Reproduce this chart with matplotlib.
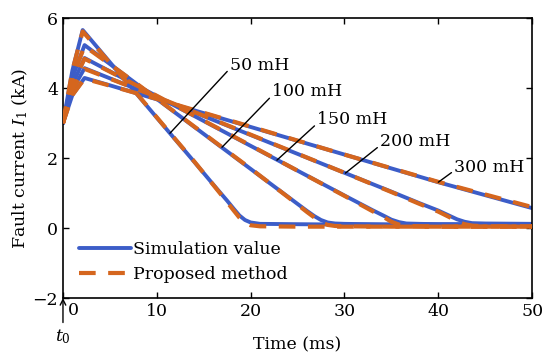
import numpy as np
import matplotlib
matplotlib.use('Agg')
import matplotlib.pyplot as plt

plt.rcParams['font.family'] = 'DejaVu Serif'
plt.rcParams['mathtext.fontset'] = 'dejavuserif'

# time (ms) / current (kA) points
t50 = [0, 1, 2.1, 5, 8, 11.4, 14, 16, 17.5, 18.2, 18.8, 19.4, 20, 21, 25, 30, 40, 50]
sim50 = [3.0, 4.5, 5.66, 4.74, 3.79, 2.71, 1.89, 1.25, 0.78, 0.55, 0.36, 0.23, 0.16, 0.12, 0.11, 0.1, 0.1, 0.1]
pro50 = [3.0, 4.5, 5.62, 4.72, 3.80, 2.72, 1.90, 1.24, 0.74, 0.5, 0.3, 0.15, 0.08, 0.05, 0.04, 0.04, 0.04, 0.04]

t100 = [0, 1, 2.3, 5, 8, 12, 16, 20, 24, 26, 26.8, 27.5, 28.2, 29, 30, 35, 40, 50]
sim100 = [3.0, 4.3, 5.23, 4.69, 4.09, 3.29, 2.49, 1.69, 0.89, 0.49, 0.34, 0.23, 0.16, 0.13, 0.12, 0.1, 0.1, 0.1]
pro100 = [3.0, 4.3, 5.2, 4.68, 4.1, 3.3, 2.5, 1.7, 0.88, 0.46, 0.3, 0.17, 0.09, 0.06, 0.05, 0.04, 0.04, 0.04]

t150 = [0, 1, 2.3, 5, 10, 15, 20, 25, 30, 33, 34.2, 35, 35.8, 36.6, 38, 40, 50]
sim150 = [3.0, 4.1, 4.86, 4.48, 3.77, 3.06, 2.35, 1.64, 0.93, 0.51, 0.35, 0.24, 0.17, 0.13, 0.12, 0.11, 0.1]
pro150 = [3.0, 4.1, 4.84, 4.47, 3.78, 3.07, 2.36, 1.64, 0.92, 0.48, 0.31, 0.18, 0.1, 0.06, 0.05, 0.04, 0.04]

t200 = [0, 1, 2.3, 5, 10, 20, 30, 35, 38, 40, 41.2, 42, 42.8, 43.6, 45, 50]
sim200 = [3.0, 3.95, 4.57, 4.28, 3.74, 2.66, 1.58, 1.04, 0.71, 0.5, 0.35, 0.25, 0.18, 0.14, 0.13, 0.12]
pro200 = [3.0, 3.95, 4.55, 4.27, 3.75, 2.67, 1.58, 1.03, 0.69, 0.47, 0.31, 0.19, 0.11, 0.07, 0.05, 0.05]

t300 = [0, 1, 2.3, 5, 10, 20, 30, 40, 50]
sim300 = [3.0, 3.8, 4.29, 4.08, 3.68, 2.89, 2.1, 1.31, 0.57]
pro300 = [3.0, 3.8, 4.27, 4.07, 3.69, 2.9, 2.1, 1.32, 0.6]

labels = ['50 mH', '100 mH', '150 mH', '200 mH', '300 mH']
# label text position and leader line end on the curve
label_xy = [(17.8, 4.66), (22.3, 3.89), (27.1, 3.09), (33.8, 2.46), (41.7, 1.74)]
curve_xy = [(11.4, 2.71), (16.95, 2.31), (22.8, 1.94), (30.1, 1.57), (40.0, 1.31)]

blue = '#3C5DC8'
orange = '#D5661E'
fs = 12.5

fig = plt.figure(figsize=(5.5, 3.63), dpi=100)
ax = fig.add_axes([0.1145, 0.179, 0.853, 0.771])

times = [t50, t100, t150, t200, t300]
sims = [sim50, sim100, sim150, sim200, sim300]
pros = [pro50, pro100, pro150, pro200, pro300]
for i in range(len(times)):
    ax.plot(times[i], sims[i], color=blue, lw=2.8, solid_capstyle='round',
            solid_joinstyle='round', label='Simulation value' if i == 0 else None, zorder=2)
for i in range(len(times)):
    ax.plot(times[i], pros[i], color=orange, lw=3.0, ls=(0, (4, 3)),
            label='Proposed method' if i == 0 else None, zorder=3)

for lab, p, q in zip(labels, label_xy, curve_xy):
    ax.annotate(lab, xy=q, xytext=p, fontsize=fs, va='center', ha='left',
                arrowprops=dict(arrowstyle='-', color='k', lw=1,
                                shrinkA=0, shrinkB=0,
                                relpos=(0, 0.3)), zorder=5)

ax.set_xlim(0, 50)
ax.set_ylim(-2, 6)
ax.set_xticks([0, 10, 20, 30, 40, 50])
ax.set_xticklabels(['', '10', '20', '30', '40', '50'])
ax.set_yticks([-2, 0, 2, 4, 6])
ax.tick_params(direction='in', top=True, right=True, labelsize=fs, length=4, width=1)
for s in ax.spines.values():
    s.set_linewidth(1.2)

ax.text(1.1, -2.12, '0', fontsize=fs, ha='center', va='top', clip_on=False)
ax.annotate('', xy=(0, -2.0), xytext=(0, -2.7), xycoords='data',
            arrowprops=dict(arrowstyle='->', color='k', lw=1, shrinkA=0, shrinkB=0),
            annotation_clip=False)
ax.text(0, -3.1, '$t_0$', fontsize=fs, ha='center', va='center', clip_on=False)

ax.set_xlabel('Time (ms)', fontsize=fs, labelpad=12)
ax.set_ylabel('Fault current $I_1$ (kA)', fontsize=fs, labelpad=2)

ax.legend(loc='lower left', bbox_to_anchor=(0.02, 0.03), frameon=False, fontsize=fs,
          handlelength=3.0, handletextpad=0.1, labelspacing=0.45, borderaxespad=0)

plt.savefig('out.png', dpi=100)
